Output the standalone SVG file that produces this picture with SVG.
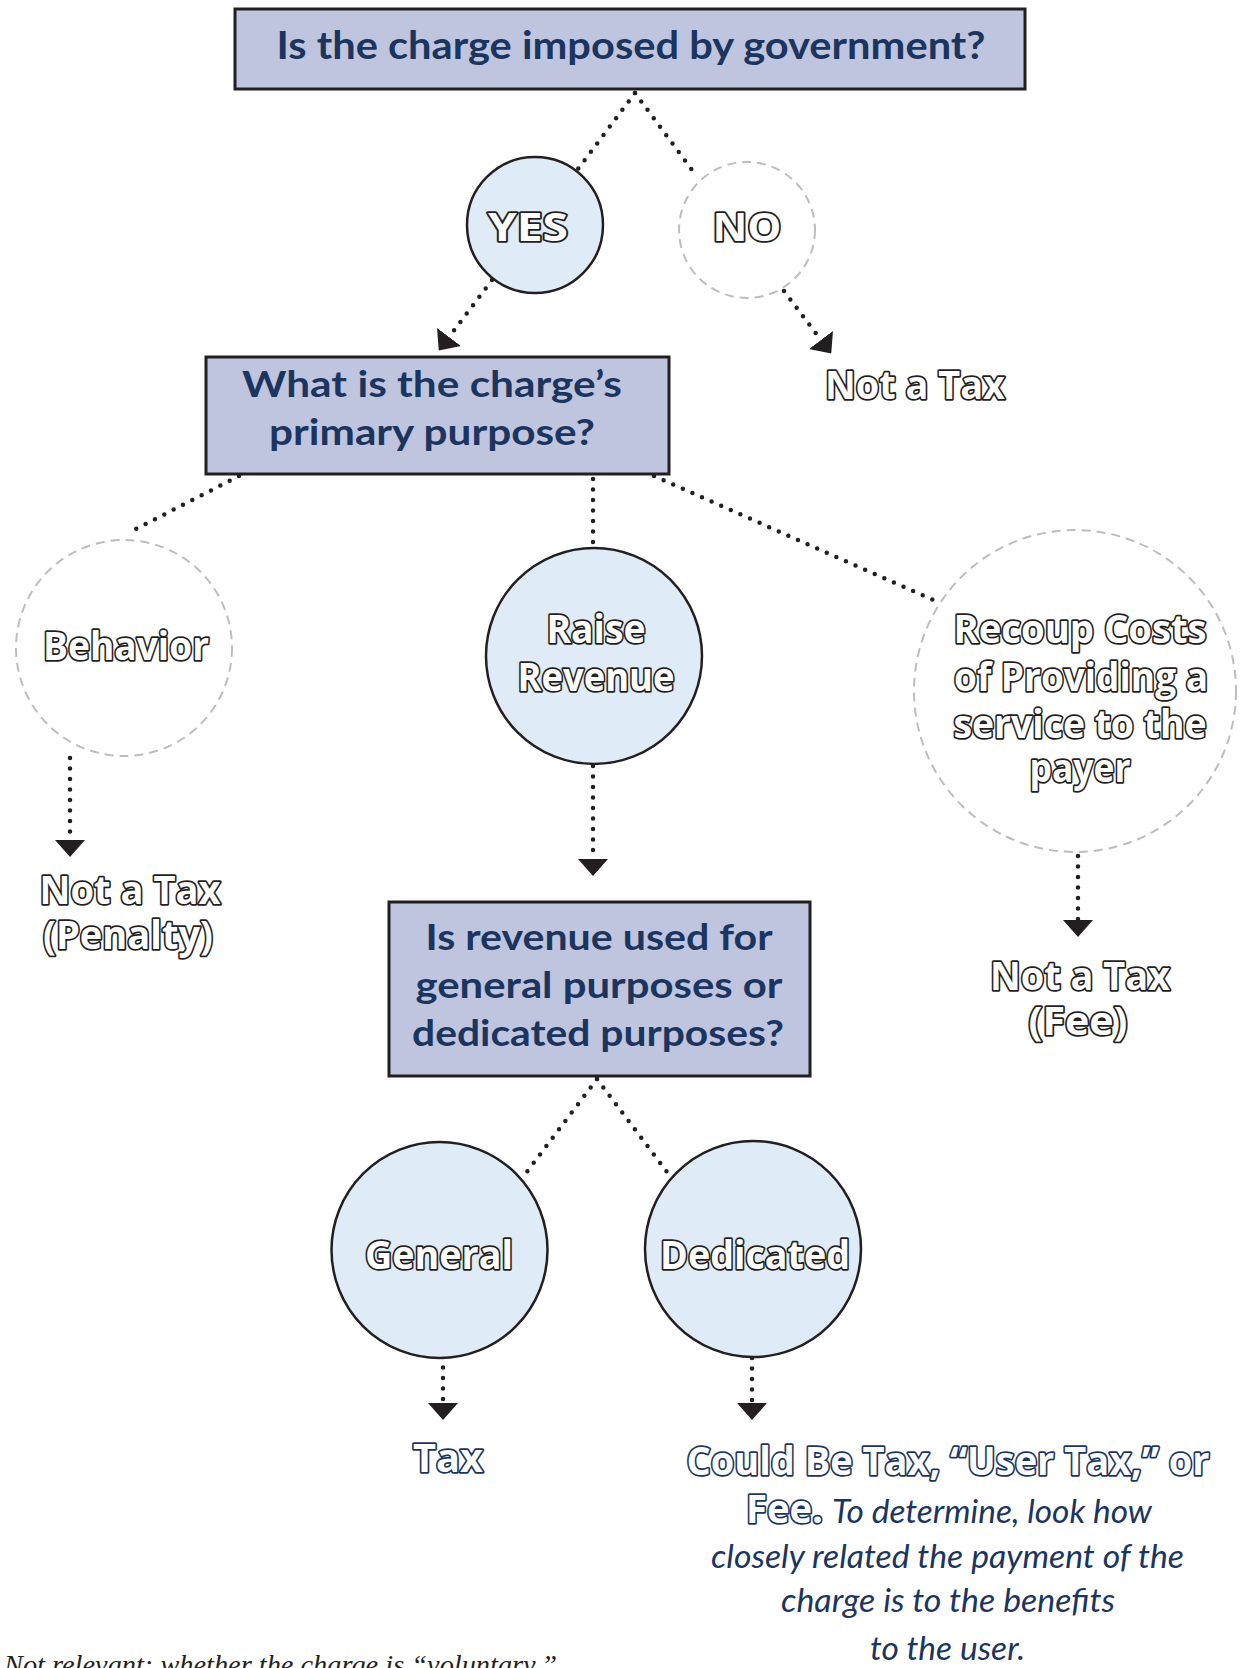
<svg xmlns="http://www.w3.org/2000/svg" width="1243" height="1668" viewBox="0 0 1243 1668">
<style>
.bg{fill:#ffffff}
.box{fill:#bfc5de;stroke:#231f20;stroke-width:3}
.q{font-family:Lato,"Open Sans","Liberation Sans",sans-serif;font-weight:700;fill:#1c355e;text-anchor:middle}
.solid{fill:#dfebf6;stroke:#231f20;stroke-width:2.5}
.ghost{fill:none;stroke:#bdbdbd;stroke-width:2;stroke-dasharray:9 6}
.ol{font-family:"Open Sans","DejaVu Sans",sans-serif;font-weight:700;font-size:40px;fill:#ffffff;stroke:#231f20;stroke-width:3.5;stroke-linejoin:round;paint-order:stroke fill;text-anchor:middle}
.navy{stroke:#1c355e}
.it{font-family:Lato,"Open Sans",sans-serif;font-style:italic;font-size:32px;fill:#1c355e}
.dot{fill:none;stroke:#231f20;stroke-width:4.5;stroke-linecap:round;stroke-dasharray:0 10.5}
.foot{font-family:"Liberation Serif",serif;font-style:italic;font-size:28px;fill:#231f20}
</style>
<defs>
<marker id="ah" markerUnits="userSpaceOnUse" viewBox="0 0 17 30" markerWidth="17" markerHeight="30" refX="0" refY="15" orient="auto">
<path d="M0,0 L17,15 L0,30 Z" fill="#231f20"/>
</marker>
</defs>
<rect class="bg" x="0" y="0" width="1243" height="1668"/>

<g id="connectors">
<path class="dot" d="M635,93 L578,169"/>
<path class="dot" d="M635,93 L695,174"/>
<path class="dot" d="M492,280 L449,337" marker-end="url(#ah)"/>
<path class="dot" d="M784,291 L821,340" marker-end="url(#ah)"/>
<path class="dot" d="M239,476 L130,532"/>
<path class="dot" d="M593,479 L593,544"/>
<path class="dot" d="M654,476 L940,603"/>
<path class="dot" d="M70,758 L70,840" marker-end="url(#ah)"/>
<path class="dot" d="M593,766 L593,859" marker-end="url(#ah)"/>
<path class="dot" d="M1078,856 L1078,920" marker-end="url(#ah)"/>
<path class="dot" d="M597,1079 L526,1173"/>
<path class="dot" d="M597,1079 L667,1172"/>
<path class="dot" d="M443,1357 L443,1403" marker-end="url(#ah)"/>
<path class="dot" d="M752,1358 L752,1403" marker-end="url(#ah)"/>
</g>

<g id="q-government">
<rect class="box" x="235" y="9" width="790" height="80"/>
<text class="q" x="631" y="59" font-size="39" textLength="709" lengthAdjust="spacingAndGlyphs">Is the charge imposed by government?</text>
</g>

<g id="yes">
<circle class="solid" cx="535" cy="225" r="68"/>
<text class="ol" x="528" y="241" font-size="39" textLength="80" lengthAdjust="spacingAndGlyphs">YES</text>
</g>

<g id="no">
<circle class="ghost" cx="747" cy="230" r="68"/>
<text class="ol" x="747" y="241" font-size="39" textLength="69" lengthAdjust="spacingAndGlyphs">NO</text>
</g>

<g id="not-tax-1">
<text class="ol" x="915" y="399" textLength="180" lengthAdjust="spacingAndGlyphs">Not a Tax</text>
</g>

<g id="q-purpose">
<rect class="box" x="206" y="357" width="463" height="117"/>
<text class="q" x="432" y="397" font-size="36" textLength="380" lengthAdjust="spacingAndGlyphs">What is the charge’s</text>
<text class="q" x="432" y="445" font-size="36" textLength="326" lengthAdjust="spacingAndGlyphs">primary purpose?</text>
</g>

<g id="behavior">
<circle class="ghost" cx="124" cy="648" r="108"/>
<text class="ol" x="126" y="660" textLength="166" lengthAdjust="spacingAndGlyphs">Behavior</text>
</g>

<g id="raise-revenue">
<circle class="solid" cx="594" cy="656" r="108"/>
<text class="ol" x="596" y="643" textLength="99" lengthAdjust="spacingAndGlyphs">Raise</text>
<text class="ol" x="596" y="691" textLength="157" lengthAdjust="spacingAndGlyphs">Revenue</text>
</g>

<g id="recoup">
<circle class="ghost" cx="1075" cy="691" r="161"/>
<text class="ol" x="1080" y="643" textLength="253" lengthAdjust="spacingAndGlyphs">Recoup Costs</text>
<text class="ol" x="1081" y="691" textLength="254" lengthAdjust="spacingAndGlyphs">of Providing a</text>
<text class="ol" x="1080" y="738" textLength="253" lengthAdjust="spacingAndGlyphs">service to the</text>
<text class="ol" x="1080" y="782" textLength="101" lengthAdjust="spacingAndGlyphs">payer</text>
</g>

<g id="not-tax-penalty">
<text class="ol" x="130" y="904" font-size="41" textLength="181" lengthAdjust="spacingAndGlyphs">Not a Tax</text>
<text class="ol" x="128" y="949" font-size="41" textLength="170" lengthAdjust="spacingAndGlyphs">(Penalty)</text>
</g>

<g id="not-tax-fee">
<text class="ol" x="1080" y="990" textLength="180" lengthAdjust="spacingAndGlyphs">Not a Tax</text>
<text class="ol" x="1078" y="1035" textLength="99" lengthAdjust="spacingAndGlyphs">(Fee)</text>
</g>

<g id="q-revenue-use">
<rect class="box" x="389" y="902" width="421" height="174"/>
<text class="q" x="599" y="950" font-size="36" textLength="347" lengthAdjust="spacingAndGlyphs">Is revenue used for</text>
<text class="q" x="599" y="998" font-size="36" textLength="367" lengthAdjust="spacingAndGlyphs">general purposes or</text>
<text class="q" x="598" y="1046" font-size="36" textLength="372" lengthAdjust="spacingAndGlyphs">dedicated purposes?</text>
</g>

<g id="general">
<circle class="solid" cx="439.5" cy="1250" r="108"/>
<text class="ol" x="439" y="1269" textLength="148" lengthAdjust="spacingAndGlyphs">General</text>
</g>

<g id="dedicated">
<circle class="solid" cx="753" cy="1249" r="108"/>
<text class="ol" x="755" y="1269" textLength="190" lengthAdjust="spacingAndGlyphs">Dedicated</text>
</g>

<g id="tax">
<text class="ol navy" x="448" y="1472" textLength="70" lengthAdjust="spacingAndGlyphs">Tax</text>
</g>

<g id="could-be">
<text class="ol navy" x="948" y="1475" font-size="38" textLength="523" lengthAdjust="spacingAndGlyphs">Could Be Tax, “User Tax,” or</text>
<text class="ol navy" x="784.5" y="1523" font-size="38" textLength="77" lengthAdjust="spacingAndGlyphs">Fee.</text>
<text class="it" x="832" y="1523" textLength="320" lengthAdjust="spacingAndGlyphs">To determine, look how</text>
<text class="it" x="947.5" y="1568" text-anchor="middle" textLength="473" lengthAdjust="spacingAndGlyphs">closely related the payment of the</text>
<text class="it" x="948" y="1612" text-anchor="middle" textLength="334" lengthAdjust="spacingAndGlyphs">charge is to the benefits</text>
<text class="it" x="947.5" y="1660" text-anchor="middle" textLength="155" lengthAdjust="spacingAndGlyphs">to the user.</text>
</g>

<g id="footnote">
<text class="foot" x="4" y="1674" textLength="553" lengthAdjust="spacingAndGlyphs">Not relevant: whether the charge is “voluntary.”</text>
</g>
</svg>
